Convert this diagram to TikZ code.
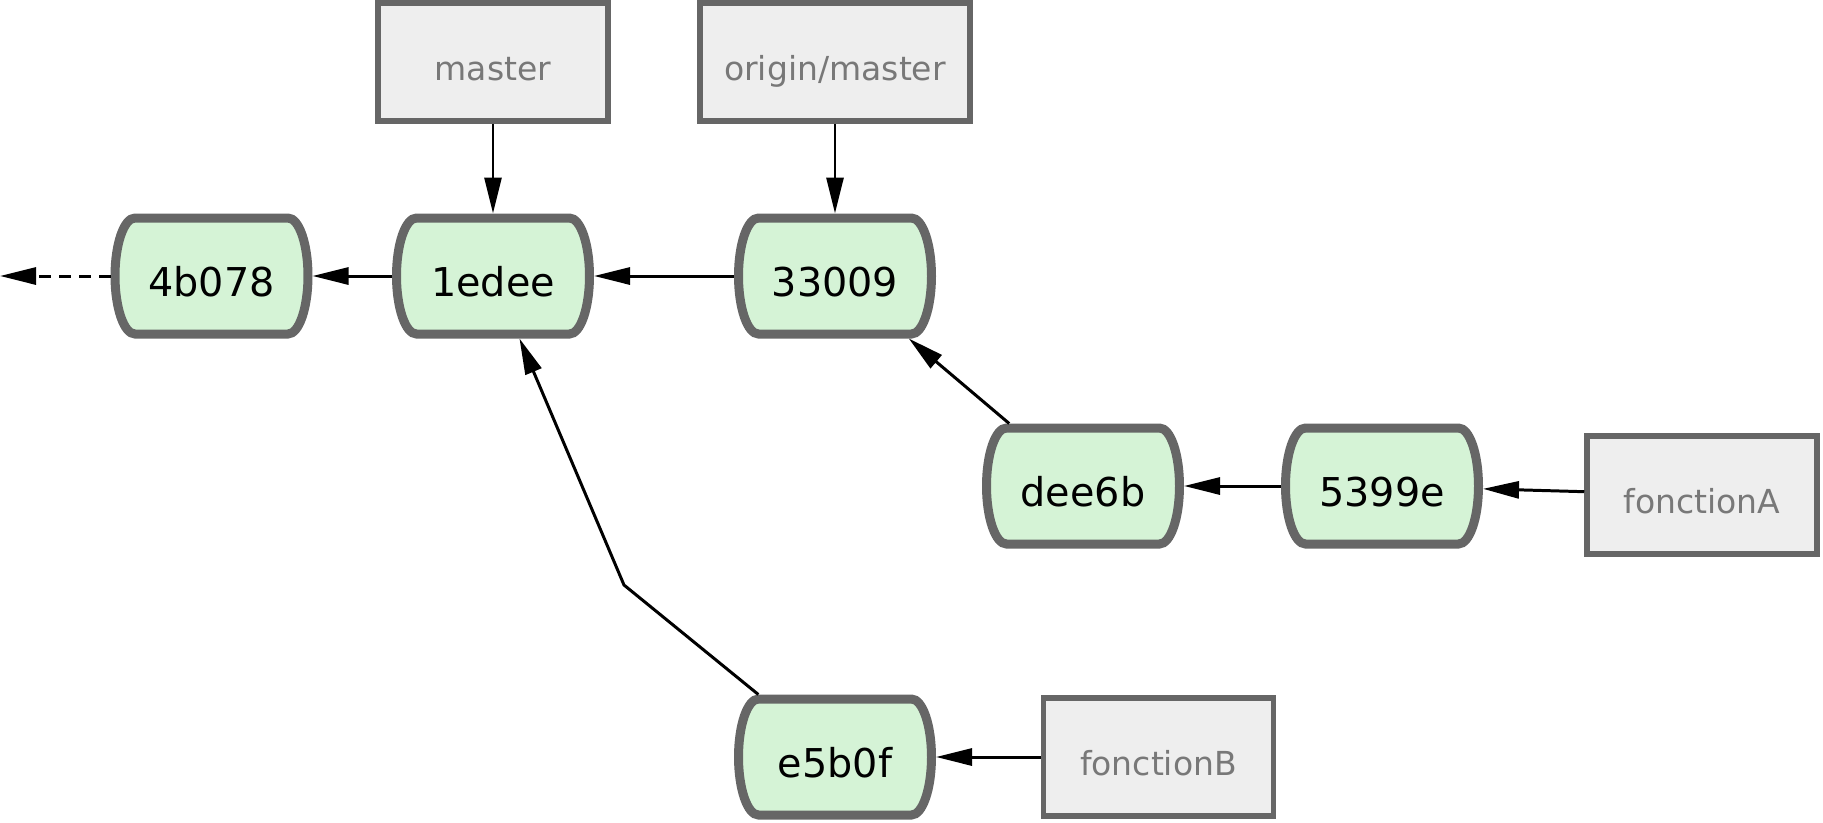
\documentclass[tikz,border=0pt]{standalone}
\usepackage{fontspec}
\setmainfont{DejaVu Sans}
\usepackage{tikz}
\usetikzlibrary{arrows.meta,backgrounds}
\definecolor{commitfill}{RGB}{213,243,214}
\definecolor{edgegray}{RGB}{102,102,102}
\definecolor{branchfill}{RGB}{238,238,238}
\definecolor{branchtext}{RGB}{120,120,120}

\begin{document}
\begin{tikzpicture}[
		commit/.style={minimum width=2.02cm,minimum height=1.25cm,inner sep=0pt,outer sep=0pt,text height=11.6pt,text depth=0pt,font=\fontsize{11.3}{13}\selectfont},
		commitline/.style={draw=edgegray,fill=commitfill,line width=0.09cm},
		branch/.style={draw=edgegray,line width=0.055cm,fill=branchfill,text=branchtext,minimum width=2.3cm,minimum height=1.18cm,inner xsep=0.24cm,outer sep=0.0275cm,text height=10.4pt,text depth=0pt,font=\fontsize{9.4}{11}\selectfont},
		ptr/.style={-{Triangle[length=3.6mm,width=1.7mm]},line width=0.85pt}]
		\useasboundingbox (0,0) rectangle (18.23,-8.22);
		% commits
		\foreach \n/\t/\x/\y in {c4b078/4b078/2.115/-2.76,c1edee/1edee/4.93/-2.76,c33009/33009/8.35/-2.76,cdee6b/dee6b/10.83/-4.86,c5399e/5399e/13.82/-4.86,ce5b0f/e5b0f/8.35/-7.57}
		\node[commit] (\n) at (\x,\y) {\t};
		\begin{scope}[on background layer]
			\foreach \n in {c4b078,c1edee,c33009,cdee6b,c5399e,ce5b0f}
			\draw[commitline,shift={(\n)}] (-0.765,0.58) -- (0.765,0.58) .. controls (0.875,0.58) and (0.965,0.32) .. (0.965,0) .. controls (0.965,-0.32) and (0.875,-0.58) .. (0.765,-0.58) -- (-0.765,-0.58) .. controls (-0.875,-0.58) and (-0.965,-0.32) .. (-0.965,0) .. controls (-0.965,0.32) and (-0.875,0.58) .. (-0.765,0.58) -- cycle;
		\end{scope}
		% branches
		\node[branch] (master) at (4.93,-0.62) {master};
		\node[branch] (origin) at (8.35,-0.62) {origin/master};
		\node[branch] (fonctionA) at (17.02,-4.95) {fonctionA};
		\node[branch] (fonctionB) at (11.585,-7.57) {fonctionB};
		\coordinate (tail) at (0,-2.76);
		\coordinate (bend) at (6.24,-5.85);
		
		\draw[ptr] (master) -- (c1edee);
		\draw[ptr] (origin) -- (c33009);
		\draw[ptr,dash pattern=on 1.2mm off 0.8mm] (c4b078) -- (tail);
		\draw[ptr] (c1edee) -- (c4b078);
		\draw[ptr] (c33009) -- (c1edee);
		\draw[ptr] (cdee6b) -- (c33009);
		\draw[ptr] (c5399e) -- (cdee6b);
		\draw[ptr] (fonctionA) -- (c5399e);
		\draw[ptr] (fonctionB) -- (ce5b0f);
		\draw[ptr] (ce5b0f) -- (bend) -- (c1edee);
	\end{tikzpicture}
\end{document}
